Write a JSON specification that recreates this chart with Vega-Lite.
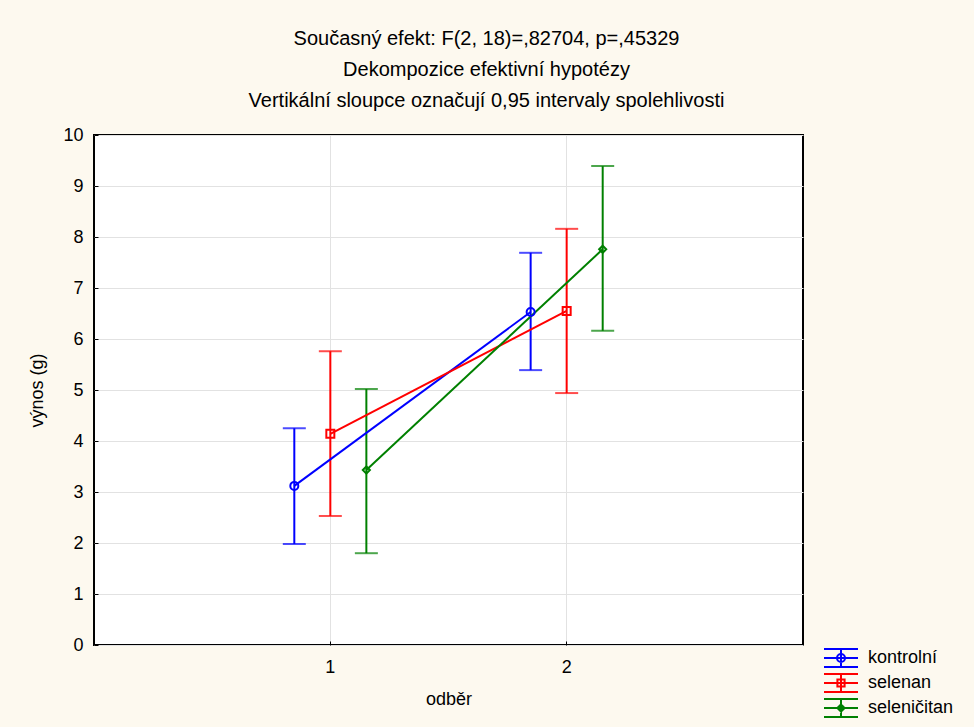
{
  "$schema": "https://vega.github.io/schema/vega-lite/v6.json",
  "width": 709,
  "height": 510,
  "autosize": {"type": "none"},
  "padding": {"left": 94, "top": 135, "right": 171, "bottom": 82},
  "background": "#fdf9ef",
  "title": {
    "text": [
      "Současný efekt: F(2, 18)=,82704, p=,45329",
      "Dekompozice efektivní hypotézy",
      "Vertikální sloupce označují 0,95 intervaly spolehlivosti"
    ],
    "anchor": "middle",
    "dx": 38,
    "offset": 15,
    "font": "Liberation Sans",
    "fontSize": 20,
    "fontWeight": "normal",
    "lineHeight": 31,
    "color": "#000000"
  },
  "data": {
    "values": [
      {"odber": "1", "skupina": "kontrolní", "prumer": 3.12, "dolni": 1.98, "horni": 4.25},
      {"odber": "1", "skupina": "selenan", "prumer": 4.14, "dolni": 2.53, "horni": 5.76},
      {"odber": "1", "skupina": "seleničitan", "prumer": 3.43, "dolni": 1.80, "horni": 5.02},
      {"odber": "2", "skupina": "kontrolní", "prumer": 6.53, "dolni": 5.39, "horni": 7.69},
      {"odber": "2", "skupina": "selenan", "prumer": 6.55, "dolni": 4.94, "horni": 8.16},
      {"odber": "2", "skupina": "seleničitan", "prumer": 7.76, "dolni": 6.16, "horni": 9.39}
    ]
  },
  "encoding": {
    "x": {
      "field": "odber",
      "type": "nominal",
      "scale": {"type": "band", "paddingInner": 0.5, "paddingOuter": 0.75},
      "axis": {
        "title": "odběr",
        "labelAngle": 0,
        "bandPosition": 0.5,
        "grid": true,
        "gridColor": "#e2e2e2",
        "domain": false,
        "tickSize": -4,
        "tickColor": "#000000",
        "labelPadding": 17,
        "titlePadding": 14
      }
    },
    "xOffset": {
      "field": "skupina",
      "type": "nominal",
      "scale": {"domain": ["kontrolní", "selenan", "seleničitan"], "paddingInner": 0, "paddingOuter": 0.14}
    }
  },
  "layer": [
    {
      "mark": {"type": "point", "opacity": 0, "filled": false},
      "encoding": {
        "y": {
          "field": "prumer",
          "type": "quantitative",
          "scale": {"domain": [0, 10], "nice": false},
          "axis": {
            "title": "výnos (g)",
            "values": [0, 1, 2, 3, 4, 5, 6, 7, 8, 9, 10],
            "grid": true,
            "gridColor": "#e2e2e2",
            "domain": false,
            "tickSize": -4,
            "tickColor": "#000000",
            "labelPadding": 15,
            "titlePadding": 16
          }
        },
        "color": {
          "field": "skupina",
          "type": "nominal",
          "scale": {"domain": ["kontrolní", "selenan", "seleničitan"], "range": ["#0000ff", "#ff0000", "#008000"]},
          "legend": {
            "title": null, "orient": "none", "legendX": 736, "legendY": 512,
            "symbolFillColor": "transparent",
            "encode": {"symbols": {"update": {"fill": {"value": "transparent"}, "fillOpacity": {"value": 0}}}}
          }
        },
        "shape": {
          "field": "skupina",
          "type": "nominal",
          "scale": {
            "domain": ["kontrolní", "selenan", "seleničitan"],
            "range": [
              "M-1.7,-0.9H1.7M-1.7,0H1.7M-1.7,0.9H1.7M0,-0.9V0.9M0.4,0A0.4,0.4 0 1,1 -0.4,0A0.4,0.4 0 1,1 0.4,0M0.4,0A0.4,0.4 0 1,0 -0.4,0A0.4,0.4 0 1,0 0.4,0",
              "M-1.7,-0.9H1.7M-1.7,0H1.7M-1.7,0.9H1.7M0,-0.9V0.9M-0.36,-0.36H0.36V0.36H-0.36ZM-0.36,-0.36V0.36H0.36V-0.36Z",
              "M-1.7,-0.9H1.7M-1.7,0H1.7M-1.7,0.9H1.7M0,-0.9V0.9M0,-0.36L0.36,0L0,0.36L-0.36,0ZM0,-0.36L-0.36,0L0,0.36L0.36,0Z"
            ]
          },
          "legend": {
            "title": null, "orient": "none", "legendX": 736, "legendY": 512,
            "symbolFillColor": "transparent",
            "encode": {"symbols": {"update": {"fill": {"value": "transparent"}, "fillOpacity": {"value": 0}}}}
          }
        }
      }
    },
    {
      "mark": {"type": "rule", "strokeWidth": 2},
      "encoding": {
        "y": {"field": "dolni", "type": "quantitative"},
        "y2": {"field": "horni"},
        "color": {"field": "skupina", "type": "nominal", "legend": null}
      }
    },
    {
      "mark": {"type": "tick", "size": 23, "thickness": 2},
      "encoding": {
        "y": {"field": "dolni", "type": "quantitative"},
        "color": {"field": "skupina", "type": "nominal", "legend": null}
      }
    },
    {
      "mark": {"type": "tick", "size": 23, "thickness": 2},
      "encoding": {
        "y": {"field": "horni", "type": "quantitative"},
        "color": {"field": "skupina", "type": "nominal", "legend": null}
      }
    },
    {
      "mark": {"type": "line", "strokeWidth": 2},
      "encoding": {
        "y": {"field": "prumer", "type": "quantitative"},
        "color": {"field": "skupina", "type": "nominal", "legend": null}
      }
    },
    {
      "transform": [{"filter": "datum.skupina === 'kontrolní'"}],
      "mark": {"type": "point", "shape": "circle", "size": 64, "strokeWidth": 2, "filled": false, "opacity": 1},
      "encoding": {
        "y": {"field": "prumer", "type": "quantitative"},
        "color": {"field": "skupina", "type": "nominal", "legend": null}
      }
    },
    {
      "transform": [{"filter": "datum.skupina === 'selenan'"}],
      "mark": {"type": "point", "shape": "square", "size": 64, "strokeWidth": 2, "filled": false, "opacity": 1},
      "encoding": {
        "y": {"field": "prumer", "type": "quantitative"},
        "color": {"field": "skupina", "type": "nominal", "legend": null}
      }
    },
    {
      "transform": [{"filter": "datum.skupina === 'seleničitan'"}],
      "mark": {"type": "point", "shape": "diamond", "size": 50, "strokeWidth": 2, "filled": false, "opacity": 1},
      "encoding": {
        "y": {"field": "prumer", "type": "quantitative"},
        "color": {"field": "skupina", "type": "nominal", "legend": null}
      }
    }
  ],
  "config": {
    "font": "Liberation Sans",
    "view": {"stroke": "#000000", "strokeWidth": 2, "fill": "#ffffff"},
    "axis": {
      "labelFont": "Liberation Sans",
      "labelFontSize": 18,
      "labelColor": "#000000",
      "titleFont": "Liberation Sans",
      "titleFontSize": 18,
      "titleFontWeight": "normal",
      "titleColor": "#000000"
    },
    "legend": {
      "labelFont": "Liberation Sans",
      "labelFontSize": 18,
      "labelColor": "#000000",
      "symbolSize": 400,
      "symbolStrokeWidth": 2,
      "symbolOpacity": 1,
      "symbolFillColor": "transparent",
      "labelOffset": 16,
      "rowPadding": -1,
      "padding": 0
    }
  }
}
